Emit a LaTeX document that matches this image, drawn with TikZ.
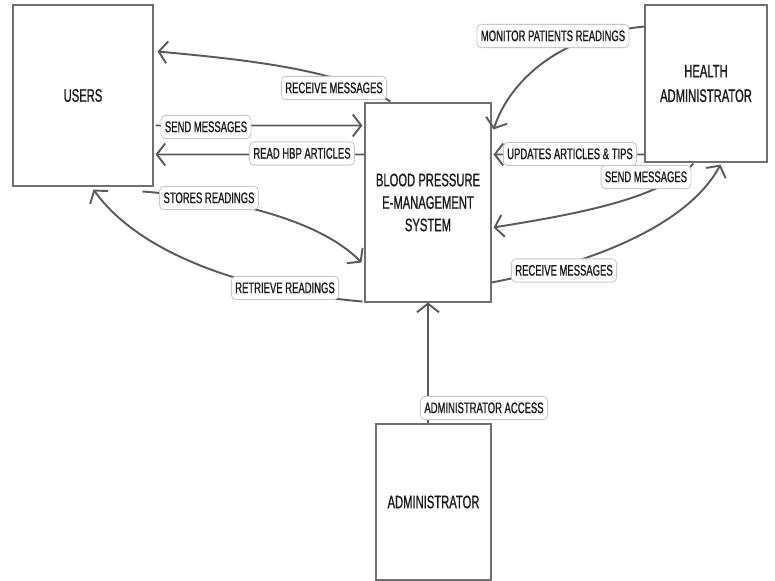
\documentclass[tikz,border=0pt]{standalone}
\usepackage{fontspec}
\setmainfont{Liberation Sans}[FakeStretch=0.62,FakeBold=0.9]
\usetikzlibrary{arrows.meta,calc}
\definecolor{edgec}{HTML}{5A5A5A}
\definecolor{boxc}{HTML}{707070}
\definecolor{lblc}{HTML}{C8C8C8}
\definecolor{txtc}{HTML}{1A1A1A}
\begin{document}
\begin{tikzpicture}[x=0.02cm,y=-0.02cm,
  entity/.style={draw=boxc, line width=0.6pt, fill=white, align=center, text=txtc,
    font=\fontsize{10.3}{12.8}\selectfont, inner sep=0pt},
  flow/.style={draw=edgec, line width=1.1pt,
    -{Straight Barb[length=1.7mm,width=4.4mm]}},
  lbl/.style={draw=lblc, line width=0.5pt, fill=white, rounded corners=2.5pt, text=txtc,
    font=\fontsize{8.7}{10}\selectfont, inner xsep=2.2pt, inner ysep=3.2pt,
    text height=6.3pt, text depth=0.5pt}]
\useasboundingbox (0,0) rectangle (775,581);

% entities
\node[entity, minimum width=2.8cm, minimum height=3.62cm] (users) at (83,95.5) {USERS};
\node[entity, minimum width=2.52cm, minimum height=3.98cm] (bps) at (428,202.5)
  {BLOOD PRESSURE\\E-MANAGEMENT\\SYSTEM};
\node[entity, minimum width=2.44cm, minimum height=3.14cm,
  font=\fontsize{10.3}{14}\selectfont] (ha) at (706,83.5) {HEALTH\\ADMINISTRATOR};
\node[entity, minimum width=2.3cm, minimum height=3.12cm] (admin) at (433.5,502) {ADMINISTRATOR};

% connector end points
\coordinate (rm1s) at ($(bps.north west)+(26,-1)$);
\coordinate (rm1e) at ($(users.north east)+(4,47)$);
\coordinate (sm1s) at ($(users.north east)+(2,121)$);
\coordinate (sm1e) at ($(bps.north west)+(-2,23)$);
\coordinate (rhs) at ($(bps.north west)+(0,52)$);
\coordinate (rhe) at ($(users.north east)+(2,150)$);
\coordinate (srs) at ($(users.south east)+(-11,5)$);
\coordinate (sre) at ($(bps.north west)+(-3,160)$);
\coordinate (rrs) at ($(bps.south west)+(-2,-1)$);
\coordinate (rre) at ($(users.south west)+(81,3)$);
\coordinate (mps) at ($(ha.north west)+(0,22)$);
\coordinate (mpe) at ($(bps.north east)+(2,27)$);
\coordinate (uas) at ($(ha.north west)+(0,150)$);
\coordinate (uae) at ($(bps.north east)+(2,52)$);
\coordinate (sm2s) at ($(ha.south west)+(49,1)$);
\coordinate (sm2e) at ($(bps.north east)+(2,125)$);
\coordinate (rm2s) at ($(bps.north east)+(0,180)$);
\coordinate (rm2e) at ($(ha.south west)+(76,2)$);
\coordinate (aas) at (admin.north -| bps.south);

% connectors
\draw[flow] (rm1s) .. controls (340,70) and (250,60) .. (rm1e);
\draw[flow] (sm1s) -- (sm1e);
\draw[flow] (rhs) -- (rhe);
\draw[flow] (srs) .. controls (230,198) and (320,220) .. (sre);
\draw[flow] (rrs) .. controls (250,292) and (140,255) .. (rre);
\draw[flow] (mps) .. controls (560,35) and (510,80) .. (mpe);
\draw[flow] (uas) -- (uae);
\draw[flow] (sm2s) .. controls (660,200) and (570,215) .. (sm2e);
\draw[flow] (rm2s) .. controls (600,262) and (690,222) .. (rm2e);
\draw[flow] (aas) -- (bps.south);

% labels
\node[lbl] (l1) at (334,88) {RECEIVE MESSAGES};
\node[lbl] (l2) at (206,127) {SEND MESSAGES};
\node[lbl] (l3) at (302,153.5) {READ HBP ARTICLES};
\node[lbl] (l4) at (209,198) {STORES READINGS};
\node[lbl] (l5) at (285,288) {RETRIEVE READINGS};
\node[lbl] (l6) at (553,36) {MONITOR PATIENTS READINGS};
\node[lbl] (l7) at (570,154) {UPDATES ARTICLES \& TIPS};
\node[lbl] (l8) at (646,177) {SEND MESSAGES};
\node[lbl] (l9) at (564,270.5) {RECEIVE MESSAGES};
\node[lbl] (l10) at (484,408) {ADMINISTRATOR ACCESS};
\end{tikzpicture}
\end{document}
